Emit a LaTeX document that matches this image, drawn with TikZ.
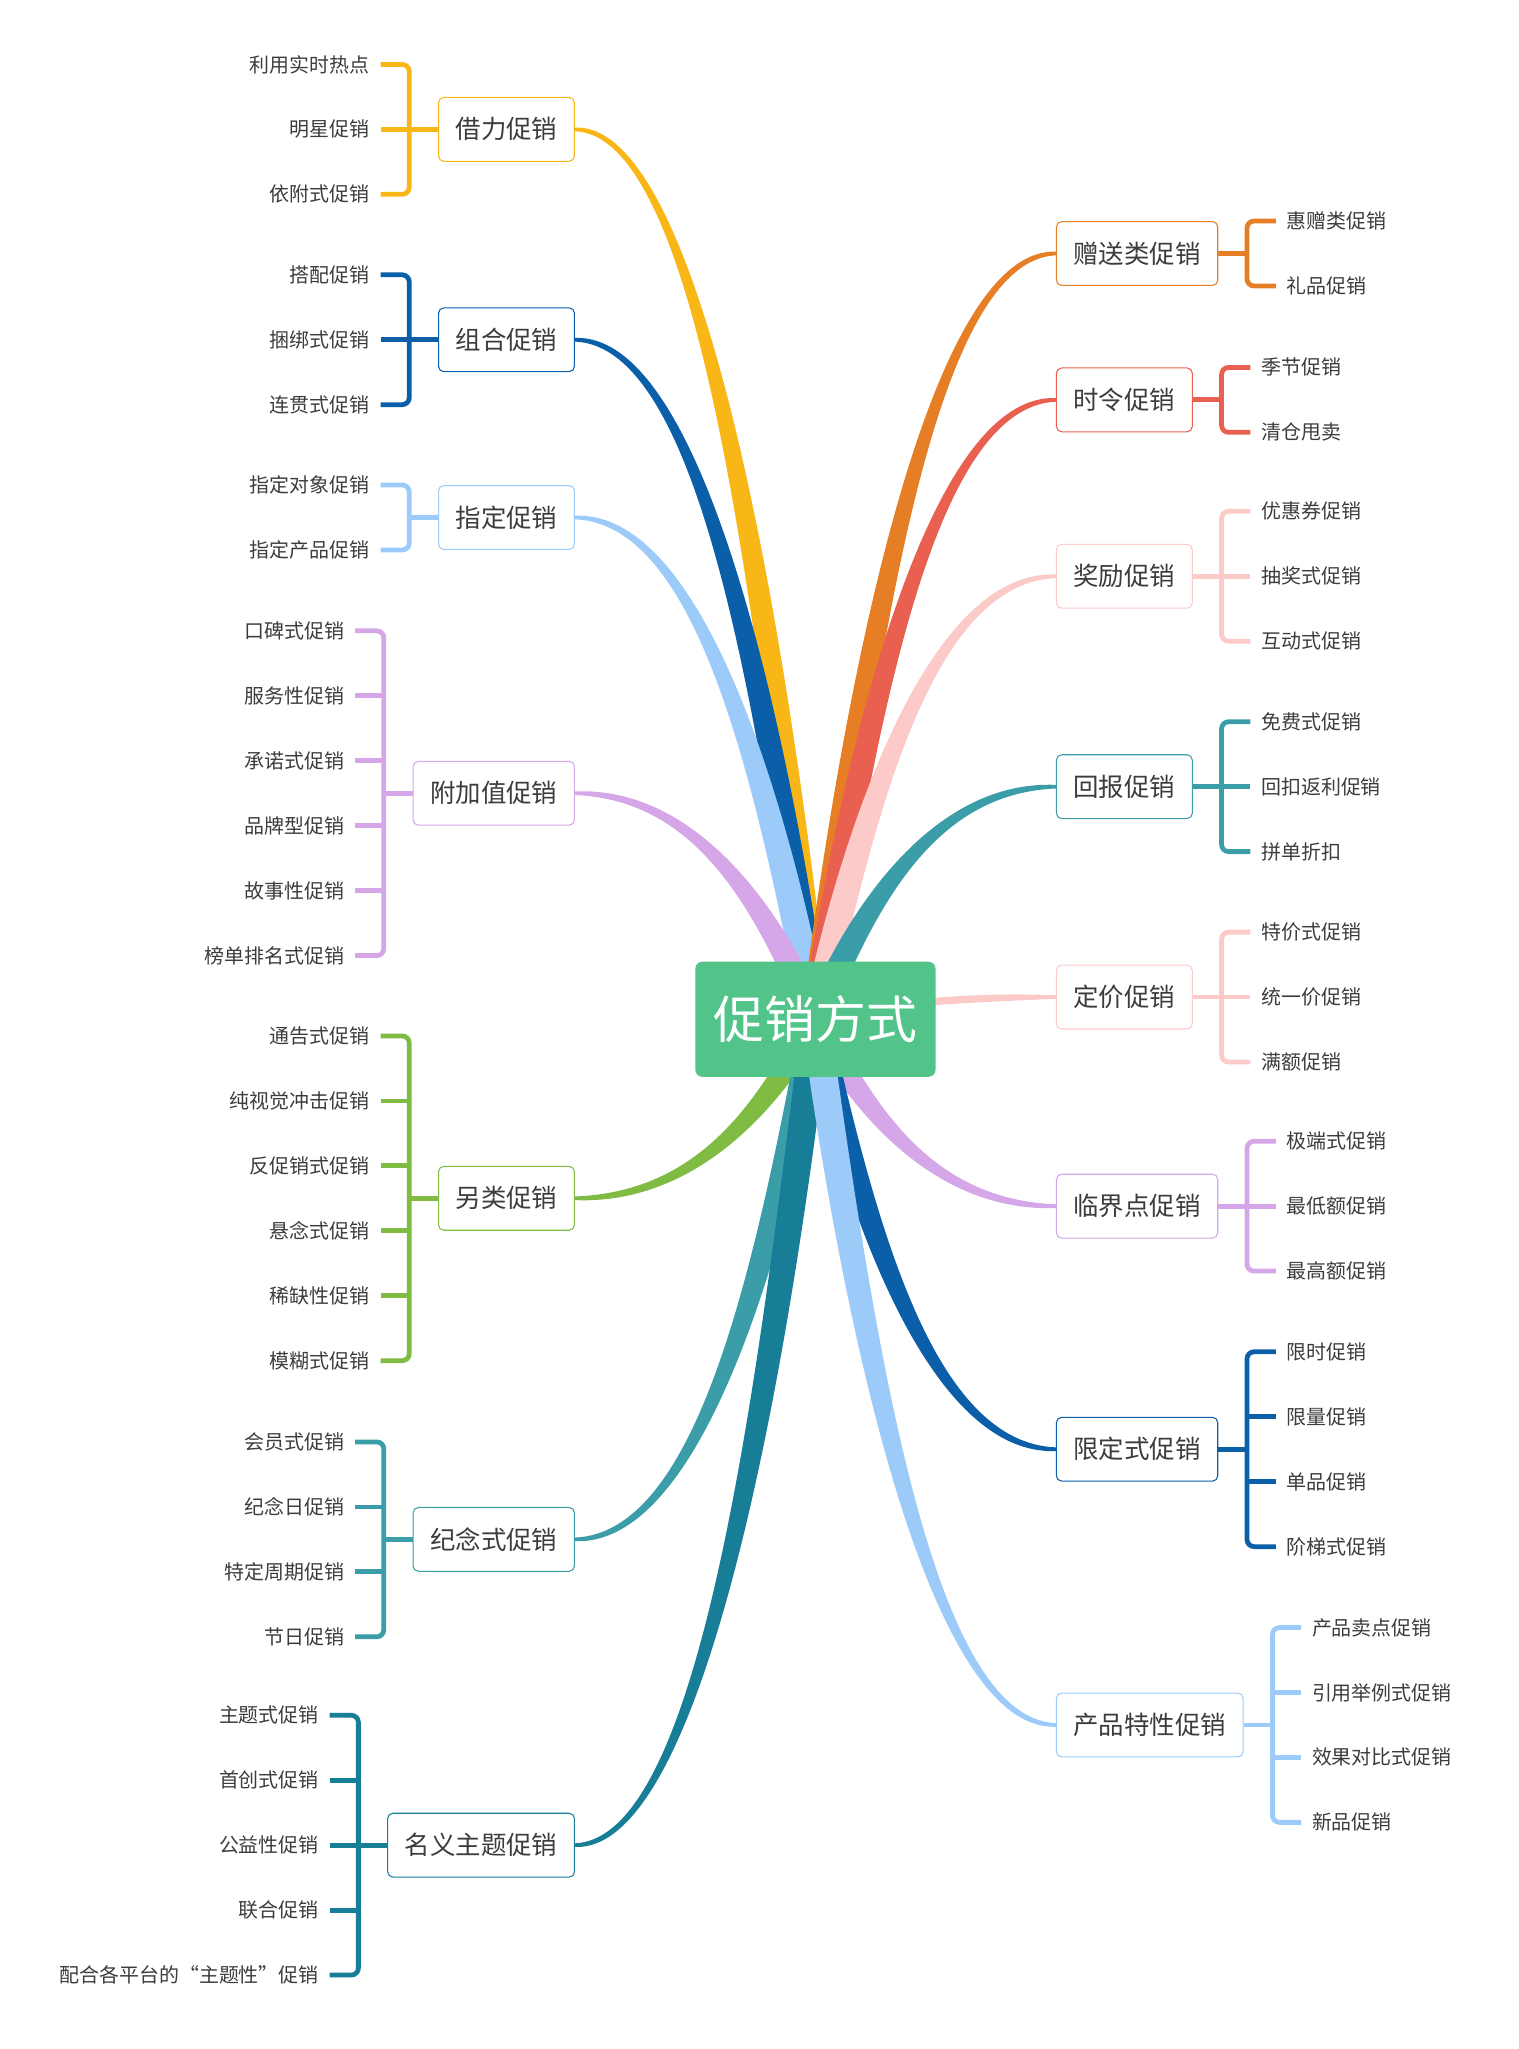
\documentclass[tikz,border=0pt]{standalone}
\usepackage{fontspec}
\setmainfont{Noto Sans CJK SC}
\usepackage{tikz}
\usetikzlibrary{calc,positioning,backgrounds}

\definecolor{ctext}{HTML}{3C3C3C}
\definecolor{croot}{HTML}{52C48A}
\definecolor{cyel}{HTML}{F9B617}
\definecolor{cdblue}{HTML}{0B5EA8}
\definecolor{clblue}{HTML}{9CCBF9}
\definecolor{cpurple}{HTML}{D5A6E8}
\definecolor{cgreen}{HTML}{80BB44}
\definecolor{cteal}{HTML}{3A9DA8}
\definecolor{cdteal}{HTML}{187E98}
\definecolor{corange}{HTML}{E67E25}
\definecolor{cred}{HTML}{E96050}
\definecolor{cpink}{HTML}{FDCACA}

% tapered curve from the root to a topic: colour, end, side (-1/1), up (1) or down (-1)
\newcommand\branch[4]{%
  \coordinate (e) at (#2);
  \coordinate (m) at ($(root)!0.5!(e)$);
  \coordinate (j) at ($(root)!0.2!(e)$);
  \coordinate (k) at ($(e)!0.5!(root)$);
  \fill[#1] ($(root)+(#3*11,0)$) .. controls ($(j |- m)+(#3*11,0)$) and ($(k |- e)+(0,#4*5)$) .. ($(e)+(0,#4*1.4)$)
    -- ($(e)+(0,-#4*1.4)$) .. controls ($(k |- e)+(0,-#4*5)$) and ($(j |- m)+(-#3*11,0)$) .. ($(root)+(-#3*11,0)$) -- cycle;}

% topic on the left: name, colour, y, text, leaves
\newcommand\lefttopic[5]{%
  \node[topic, draw=#2, anchor=east] (#1) at (440,#3) {#4};
  \pgfmathsetmacro\updown{sign(780-#3)}
  \begin{scope}[on background layer]\branch{#2}{#1.east}{-1}{\updown}\end{scope}
  \coordinate (#1v) at ($(#1.west)+(-22,0)$);
  \foreach \txt [count=\i] in {#5} {\xdef\nleaves{\i}}
  \foreach \txt [count=\i] in {#5}
    \path (#1v) ++(-22,{(\i-(\nleaves+1)/2)*49.7}) node[leaf, anchor=east] (#1-\i) {\txt};
  \draw[stub, #2] (#1.west) -- (#1v);
  \draw[stub, #2, rounded corners=4pt] (#1-1.east) -| (#1-\nleaves.east -| #1v) -- (#1-\nleaves.east);
  \foreach \i in {1,...,\nleaves} {%
    \ifnum\i>1 \ifnum\i<\nleaves\relax
      \draw[stub, #2] (#1-\i.east) -- (#1-\i.east -| #1v);
    \fi\fi}}

% topic on the right: name, colour, y, text, leaves
\newcommand\righttopic[5]{%
  \node[topic, draw=#2, anchor=west] (#1) at (808,#3) {#4};
  \pgfmathsetmacro\updown{sign(780-#3)}
  \begin{scope}[on background layer]\branch{#2}{#1.west}{1}{\updown}\end{scope}
  \coordinate (#1v) at ($(#1.east)+(22,0)$);
  \foreach \txt [count=\i] in {#5} {\xdef\nleaves{\i}}
  \foreach \txt [count=\i] in {#5}
    \path (#1v) ++(22,{(\i-(\nleaves+1)/2)*49.7}) node[leaf, anchor=west] (#1-\i) {\txt};
  \draw[stub, #2] (#1.east) -- (#1v);
  \draw[stub, #2, rounded corners=4pt] (#1-1.west) -| (#1-\nleaves.west -| #1v) -- (#1-\nleaves.west);
  \foreach \i in {1,...,\nleaves} {%
    \ifnum\i>1 \ifnum\i<\nleaves\relax
      \draw[stub, #2] (#1-\i.west) -- (#1-\i.west -| #1v);
    \fi\fi}}

\begin{document}
\begin{tikzpicture}[x=0.026cm, y=-0.026cm,
        root/.style={rectangle, rounded corners=4pt, fill=croot, text=white, minimum width=4.78cm, minimum height=2.29cm, font=\fontsize{28.8}{32}\selectfont},
        topic/.style={rectangle, rounded corners=3pt, fill=white, line width=0.6pt, minimum height=1.27cm, inner xsep=0.34cm, text=ctext, font=\fontsize{14.4}{16}\selectfont},
        leaf/.style={inner xsep=0.208cm, inner ysep=0pt, text=ctext, font=\fontsize{11.3}{13}\selectfont},
        stub/.style={line width=2.7pt}
    ]
        \useasboundingbox (0,0) rectangle (1162,1568);

        % 中心主题
        \node[root] (root) at (624,780) {促销方式};

        % 左侧
        \lefttopic{jl}{cyel}{99}{借力促销}{利用实时热点, 明星促销, 依附式促销}
        \lefttopic{zh}{cdblue}{260}{组合促销}{搭配促销, 捆绑式促销, 连贯式促销}
        \lefttopic{zd}{clblue}{396}{指定促销}{指定对象促销, 指定产品促销}
        \lefttopic{fj}{cpurple}{607}{附加值促销}{口碑式促销, 服务性促销, 承诺式促销, 品牌型促销, 故事性促销, 榜单排名式促销}
        \lefttopic{ll}{cgreen}{917}{另类促销}{通告式促销, 纯视觉冲击促销, 反促销式促销, 悬念式促销, 稀缺性促销, 模糊式促销}
        \lefttopic{jn}{cteal}{1178}{纪念式促销}{会员式促销, 纪念日促销, 特定周期促销, 节日促销}
        \lefttopic{my}{cdteal}{1412}{名义主题促销}{主题式促销, 首创式促销, 公益性促销, 联合促销, {配合各平台的\makebox[1em][r]{“}主题性\makebox[1em][l]{”}促销}}

        % 右侧
        \righttopic{zs}{corange}{194}{赠送类促销}{惠赠类促销, 礼品促销}
        \righttopic{sl}{cred}{306}{时令促销}{季节促销, 清仓甩卖}
        \righttopic{jj}{cpink}{441}{奖励促销}{优惠券促销, 抽奖式促销, 互动式促销}
        \righttopic{hb}{cteal}{602}{回报促销}{免费式促销, 回扣返利促销, 拼单折扣}
        \righttopic{dj}{cpink}{763}{定价促销}{特价式促销, 统一价促销, 满额促销}
        \righttopic{ljd}{cpurple}{923}{临界点促销}{极端式促销, 最低额促销, 最高额促销}
        \righttopic{xd}{cdblue}{1109}{限定式促销}{限时促销, 限量促销, 单品促销, 阶梯式促销}
        \righttopic{cp}{clblue}{1320}{产品特性促销}{产品卖点促销, 引用举例式促销, 效果对比式促销, 新品促销}
    \end{tikzpicture}
\end{document}
